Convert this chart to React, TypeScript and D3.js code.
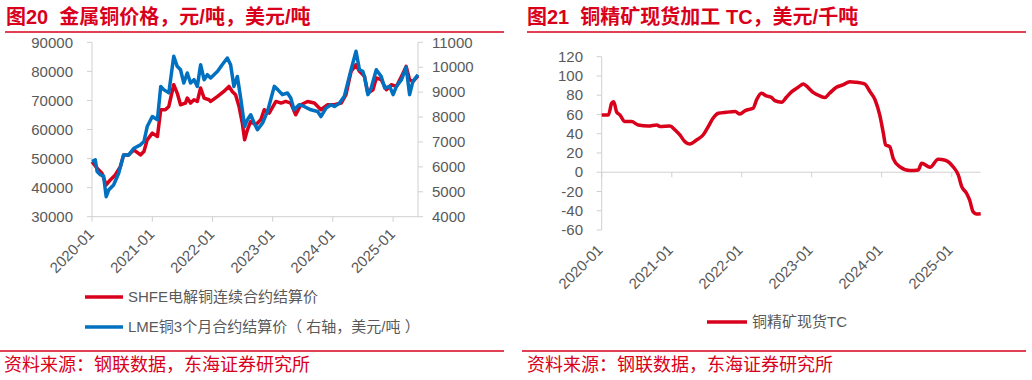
import React from "react";
import * as d3 from "d3";

// ---------- Data ----------
const shfeDates = ["2020-01-01","2020-02-01","2020-03-01","2020-03-27","2020-04-21","2020-05-21","2020-06-21","2020-07-11","2020-08-11","2020-09-11","2020-10-21","2020-11-11","2020-12-01","2021-01-01","2021-02-01","2021-02-21","2021-03-21","2021-04-11","2021-05-11","2021-06-01","2021-06-21","2021-07-21","2021-08-01","2021-08-21","2021-09-11","2021-10-01","2021-10-21","2021-11-11","2021-12-11","2021-12-21","2022-02-01","2022-03-11","2022-04-11","2022-05-01","2022-05-21","2022-06-11","2022-07-01","2022-07-15","2022-08-01","2022-08-21","2022-09-21","2022-10-21","2022-11-11","2022-12-11","2023-01-21","2023-02-21","2023-03-21","2023-04-21","2023-05-21","2023-06-21","2023-08-01","2023-09-11","2023-10-21","2023-12-01","2024-01-11","2024-02-21","2024-03-21","2024-04-21","2024-05-21","2024-06-11","2024-07-11","2024-08-01","2024-09-01","2024-09-21","2024-10-21","2024-11-21","2024-12-21","2025-01-21","2025-02-21","2025-03-21","2025-04-11","2025-05-01","2025-06-01"];
const shfeValues = [48964,46690,44960,40930,42650,44380,47240,51270,51270,53000,51270,52400,56450,58750,57590,66790,66790,67920,75400,72540,68510,69100,70820,69100,70240,69650,74270,70820,70240,69650,71380,73100,74820,73100,71960,67920,62190,56450,59900,62760,61620,63340,66790,65650,69650,69100,69650,69100,65070,68510,69650,69100,66790,68510,68510,69100,71960,80000,82300,80000,78270,72540,73690,77720,77130,73690,75400,74820,78270,81720,77130,76500,78500];

const lmeDates = ["2020-01-01","2020-01-21","2020-02-01","2020-02-21","2020-03-11","2020-03-27","2020-04-11","2020-05-11","2020-06-11","2020-07-11","2020-08-11","2020-09-11","2020-10-21","2020-11-11","2020-12-01","2021-01-01","2021-02-01","2021-02-21","2021-03-11","2021-04-11","2021-05-11","2021-06-01","2021-06-21","2021-07-11","2021-08-01","2021-08-21","2021-09-11","2021-10-01","2021-10-21","2021-11-11","2021-12-01","2021-12-21","2022-02-01","2022-03-01","2022-04-01","2022-04-21","2022-05-11","2022-06-01","2022-06-21","2022-07-15","2022-08-01","2022-08-21","2022-09-11","2022-10-01","2022-11-01","2022-12-01","2023-01-11","2023-02-01","2023-03-01","2023-04-01","2023-04-21","2023-05-11","2023-06-11","2023-07-11","2023-08-21","2023-10-01","2023-10-21","2023-11-21","2023-12-21","2024-01-11","2024-02-11","2024-03-11","2024-04-21","2024-05-21","2024-06-11","2024-07-01","2024-07-11","2024-08-01","2024-08-21","2024-09-21","2024-10-21","2024-11-11","2024-12-11","2025-01-01","2025-01-21","2025-02-21","2025-03-21","2025-04-11","2025-05-01","2025-06-01"];
const lmeValues = [6213,6280,5810,5680,5640,4805,5070,5275,5745,6480,6480,6750,6885,7017,7620,8020,7890,9230,9100,8970,10437,10035,9900,9365,9770,9365,9500,9230,10100,9500,9700,9570,9835,10100,10370,10100,9230,9630,8760,7620,7890,8090,7760,7490,7760,8225,9230,9100,8900,8965,8765,8290,8495,8425,8290,8225,8020,8360,8495,8425,8560,8830,9900,10640,9900,9835,9630,8900,9165,9900,9630,9165,9230,8900,9230,9500,10000,8900,9430,9700];

const tcDates = ["2020-01-01","2020-02-05","2020-02-22","2020-03-04","2020-03-18","2020-04-05","2020-05-01","2020-06-05","2020-07-10","2020-09-01","2020-10-14","2020-11-01","2020-12-22","2021-01-18","2021-02-12","2021-03-10","2021-04-04","2021-05-10","2021-06-13","2021-07-10","2021-08-04","2021-09-01","2021-10-13","2021-11-28","2021-12-22","2022-01-19","2022-03-01","2022-03-19","2022-04-13","2022-05-10","2022-06-04","2022-06-22","2022-07-28","2022-08-22","2022-09-19","2022-10-22","2022-11-19","2022-12-04","2023-01-10","2023-02-12","2023-03-10","2023-04-04","2023-05-10","2023-06-13","2023-07-19","2023-08-22","2023-10-04","2023-11-01","2023-11-28","2023-12-22","2024-01-10","2024-01-22","2024-02-12","2024-03-01","2024-04-04","2024-05-28","2024-07-10","2024-07-28","2024-09-10","2024-10-22","2024-11-28","2025-01-10","2025-02-04","2025-02-22","2025-03-19","2025-04-04","2025-04-22","2025-05-10","2025-06-01"];
const tcValues = [59.5,59.5,71.6,73.3,63,59.5,52.6,52.6,49.1,48,49.1,47.4,48,43.9,38.7,31.8,29.4,33.5,38.7,47.4,56,61.2,62.3,63,60.5,64,66.4,75,82,79.2,77.8,74.4,72.7,77.8,83.7,88.2,91.7,89.6,82.7,79.2,77.5,82,88.2,90.7,94.1,93.4,91.7,83.7,75,59.5,40.5,28.3,26.6,14.5,5.8,1.7,2.4,9.3,5.2,13.5,12.5,5.2,-2.8,-15,-21.8,-28.8,-40.9,-43.3,-43];

const xTickLabels = ["2020-01","2021-01","2022-01","2023-01","2024-01","2025-01"];
const leftTicks = [30000,40000,50000,60000,70000,80000,90000];
const rightTicks = [4000,5000,6000,7000,8000,9000,10000,11000];
const tcTicks = [-60,-40,-20,0,20,40,60,80,100,120];

const title1 = "图20  金属铜价格，元/吨，美元/吨";
const title2 = "图21  铜精矿现货加工 TC，美元/千吨";
const legendShfe = "SHFE电解铜连续合约结算价";
const legendLme = "LME铜3个月合约结算价（ 右轴，美元/吨 ）";
const legendTc = "铜精矿现货TC";
const source = "资料来源：钢联数据，东海证券研究所";

// ---------- Styles ----------
const RED = "#D9001B";
const BLUE = "#0070C0";
const AXIS = "#D0D0D0";
const TXT = "#595959";
const FONT = "'Liberation Sans', Arial, 'Noto Sans CJK SC', sans-serif";

const parse = d3.timeParse("%Y-%m-%d");
const pts = (ds: string[], vs: number[]) => ds.map((d, i) => ({ d: parse(d) as Date, v: vs[i] }));

export default function App() {
  const shfe = pts(shfeDates, shfeValues);
  const lme = pts(lmeDates, lmeValues);
  const tc = pts(tcDates, tcValues);
  const tickDates = xTickLabels.map((s) => parse(s + "-01") as Date);
  const domain = [parse("2020-01-01") as Date, parse("2025-06-01") as Date];

  // Left chart scales
  const xL = d3.scaleTime().domain(domain).range([92, 418]);
  const yL = d3.scaleLinear().domain([30000, 90000]).range([216.7, 42.3]);
  const yR = d3.scaleLinear().domain([4000, 11000]).range([216.7, 42.3]);
  const lineL = d3.line<any>().x((p) => xL(p.d)).y((p) => yL(p.v));
  const lineR = d3.line<any>().x((p) => xL(p.d)).y((p) => yR(p.v));

  // Right chart scales
  const xT = d3.scaleTime().domain(domain).range([601.7, 980.7]);
  const yT = d3.scaleLinear().domain([-60, 120]).range([230, 56.7]);
  const lineT = d3.line<any>().x((p) => xT(p.d)).y((p) => yT(p.v)).curve(d3.curveMonotoneX);

  return (
    <svg width={1032} height={380} style={{ position: "fixed", left: 0, top: 0, background: "#fff" }} fontFamily={FONT}>
      <rect x={0} y={0} width={1032} height={380} fill="#fff" />
      {/* Titles */}
      <text x={6} y={24} fontSize={20} fontWeight="bold" fill={RED} style={{ whiteSpace: "pre" }}>{title1}</text>
      <line x1={5} x2={504} y1={32} y2={32} stroke={RED} strokeWidth={1.5} />
      <text x={527} y={24} fontSize={20} fontWeight="bold" fill={RED} style={{ whiteSpace: "pre" }}>{title2}</text>
      <line x1={527} x2={1026} y1={32} y2={32} stroke={RED} strokeWidth={1.5} />

      {/* ===== Left chart ===== */}
      <line x1={92} x2={92} y1={yL(90000)} y2={yL(30000)} stroke={AXIS} />
      <line x1={418} x2={418} y1={yR(11000)} y2={yR(4000)} stroke={AXIS} />
      <line x1={92} x2={418} y1={216.7} y2={216.7} stroke={AXIS} />
      {leftTicks.map((t) => (
        <g key={"l" + t}>
          <line x1={87} x2={92} y1={yL(t)} y2={yL(t)} stroke={AXIS} />
          <text x={73} y={yL(t)} dy="0.35em" textAnchor="end" fontSize={15} fill={TXT}>{t}</text>
        </g>
      ))}
      {rightTicks.map((t) => (
        <g key={"r" + t}>
          <line x1={418} x2={423} y1={yR(t)} y2={yR(t)} stroke={AXIS} />
          <text x={432} y={yR(t)} dy="0.35em" textAnchor="start" fontSize={15} fill={TXT}>{t}</text>
        </g>
      ))}
      {tickDates.map((d, i) => (
        <g key={"xl" + i}>
          <line x1={xL(d)} x2={xL(d)} y1={216.7} y2={221.7} stroke={AXIS} />
          <text transform={`translate(${xL(d) + 3},${235}) rotate(-45)`} textAnchor="end" fontSize={15} fill={TXT}>{xTickLabels[i]}</text>
        </g>
      ))}
      <path d={lineL(shfe) || ""} fill="none" stroke={RED} strokeWidth={3.5} strokeLinejoin="round" />
      <path d={lineR(lme) || ""} fill="none" stroke={BLUE} strokeWidth={3.5} strokeLinejoin="round" />
      {/* Legend */}
      <line x1={85} x2={123} y1={297} y2={297} stroke={RED} strokeWidth={3.5} />
      <text x={128} y={297} dy="0.35em" fontSize={15} fill={TXT}>{legendShfe}</text>
      <line x1={85} x2={123} y1={327} y2={327} stroke={BLUE} strokeWidth={3.5} />
      <text x={128} y={327} dy="0.35em" fontSize={15} fill={TXT} style={{ whiteSpace: "pre" }}>{legendLme}</text>

      {/* ===== Right chart ===== */}
      <line x1={601.7} x2={601.7} y1={yT(120)} y2={yT(-60)} stroke={AXIS} />
      <line x1={601.7} x2={980.7} y1={yT(0)} y2={yT(0)} stroke={AXIS} />
      {tcTicks.map((t) => (
        <g key={"t" + t}>
          <line x1={596.7} x2={601.7} y1={yT(t)} y2={yT(t)} stroke={AXIS} />
          <text x={583} y={yT(t)} dy="0.35em" textAnchor="end" fontSize={15} fill={TXT}>{t}</text>
        </g>
      ))}
      {tickDates.map((d, i) => (
        <g key={"xt" + i}>
          <line x1={xT(d)} x2={xT(d)} y1={yT(0)} y2={yT(0) + 5} stroke={AXIS} />
          <text transform={`translate(${xT(d) + 2},${251}) rotate(-45)`} textAnchor="end" fontSize={15} fill={TXT}>{xTickLabels[i]}</text>
        </g>
      ))}
      <path d={lineT(tc) || ""} fill="none" stroke={RED} strokeWidth={3.5} strokeLinejoin="round" />
      <line x1={707} x2={747} y1={322} y2={322} stroke={RED} strokeWidth={3.5} />
      <text x={752} y={322} dy="0.35em" fontSize={15} fill={TXT}>{legendTc}</text>

      {/* Footers */}
      <line x1={0} x2={504} y1={351} y2={351} stroke={RED} strokeWidth={1.5} />
      <text x={4} y={371} fontSize={18} fill={RED}>{source}</text>
      <line x1={522} x2={1026} y1={351} y2={351} stroke={RED} strokeWidth={1.5} />
      <text x={527} y={371} fontSize={18} fill={RED}>{source}</text>
    </svg>
  );
}
